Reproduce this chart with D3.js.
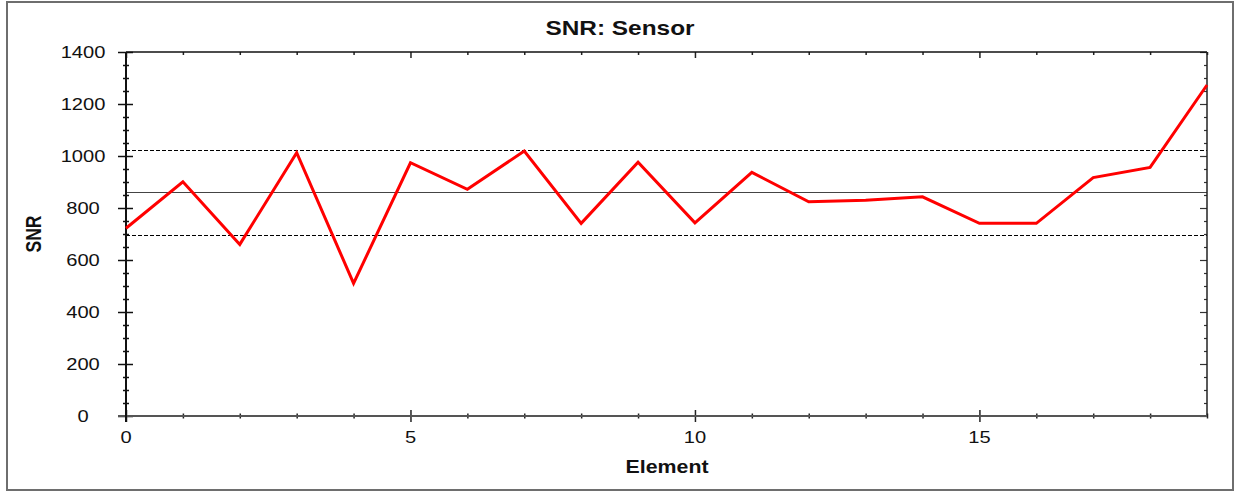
<!DOCTYPE html>
<html>
<head>
<meta charset="utf-8">
<script src="https://cdn.jsdelivr.net/npm/d3@7"></script>
<style>
  html, body { margin: 0; padding: 0; background: #fff; }
  svg { display: block; }
  text { font-family: "Liberation Sans", Arial, sans-serif; fill: #111; }
</style>
</head>
<body>
<svg id="chart" width="1236" height="494"></svg>
<script>
// ---- data ----
const elements = d3.range(0, 20);
const snrValues = [722, 901, 660, 1013, 510, 974, 872, 1019, 741, 976, 743, 937, 824, 830, 843, 741, 741, 917, 956, 1273];
const meanValue = 860;
const limitValues = [1023, 696];
const yTickValues = [0, 200, 400, 600, 800, 1000, 1200, 1400];
const xTickValues = [0, 5, 10, 15];
const titleText = "SNR: Sensor";
const xLabel = "Element";
const yLabel = "SNR";

// ---- layout ----
const svg = d3.select("#chart");
const L = 126, R = 1207, T = 52, B = 416;
const SX = 1.22; // horizontal stretch of the reference text

const x = d3.scaleLinear().domain([0, 19]).range([L, R]);
const y = d3.scaleLinear().domain([0, 1400]).range([B, T]);
const crisp = v => Math.round(v) + 0.5;

// outer frame
svg.append("rect").attr("x", 7).attr("y", 2).attr("width", 1226).attr("height", 488)
  .attr("fill", "#fff").attr("stroke", "#6e6e6e").attr("stroke-width", 2);

function stretchedText(px, py, str, opts) {
  return svg.append("text")
    .attr("transform", `translate(${px},${py}) scale(${SX},1)` + (opts.rotate ? ` rotate(${opts.rotate})` : ""))
    .attr("text-anchor", opts.anchor || "middle")
    .attr("font-size", opts.size)
    .attr("font-weight", opts.weight || "normal")
    .text(str);
}

// reference lines
svg.append("line").attr("x1", L).attr("x2", R).attr("y1", crisp(y(meanValue))).attr("y2", crisp(y(meanValue)))
  .attr("stroke", "#444").attr("stroke-width", 1);
limitValues.forEach(v => {
  svg.append("line").attr("x1", L).attr("x2", R).attr("y1", crisp(y(v))).attr("y2", crisp(y(v)))
    .attr("stroke", "#000").attr("stroke-width", 1).attr("stroke-dasharray", "4,2");
});

// axes helper
function styleAxis(g, color, width) {
  g.select(".domain").remove();
  g.selectAll(".tick line").attr("stroke", color).attr("stroke-width", width);
  g.selectAll(".tick text").remove();
}
const yMinor = d3.range(0, 1401, 50).filter(v => v % 200 !== 0);
const xMinor = elements.filter(v => v % 5 !== 0);

// left axis: major ticks crossing, minor small crossing
svg.append("g").attr("transform", `translate(${L},0)`).call(d3.axisLeft(y).tickValues(yTickValues).tickSize(8)).call(styleAxis, "#111", 1.5);
svg.append("g").attr("transform", `translate(${L},0)`).call(d3.axisRight(y).tickValues(yTickValues).tickSize(7)).call(styleAxis, "#111", 1.5);
svg.append("g").attr("transform", `translate(${L},0)`).call(d3.axisLeft(y).tickValues(yMinor).tickSize(3)).call(styleAxis, "#111", 1.5);
svg.append("g").attr("transform", `translate(${L},0)`).call(d3.axisRight(y).tickValues(yMinor).tickSize(3)).call(styleAxis, "#111", 1.5);
// right axis: inward ticks
svg.append("g").attr("transform", `translate(${R},0)`).call(d3.axisLeft(y).tickValues(yTickValues).tickSize(7)).call(styleAxis, "#333", 1.2);
svg.append("g").attr("transform", `translate(${R},0)`).call(d3.axisLeft(y).tickValues(yMinor).tickSize(3)).call(styleAxis, "#333", 1.2);
// top axis: inward ticks
svg.append("g").attr("transform", `translate(0,${T})`).call(d3.axisBottom(x).tickValues(xTickValues).tickSize(6)).call(styleAxis, "#222", 1.5);
svg.append("g").attr("transform", `translate(0,${T})`).call(d3.axisBottom(x).tickValues(xMinor).tickSize(3)).call(styleAxis, "#222", 1.5);
// bottom axis: crossing ticks
svg.append("g").attr("transform", `translate(0,${B})`).call(d3.axisBottom(x).tickValues(xTickValues).tickSize(6)).call(styleAxis, "#222", 1.5);
svg.append("g").attr("transform", `translate(0,${B})`).call(d3.axisTop(x).tickValues(xTickValues).tickSize(6)).call(styleAxis, "#222", 1.5);
svg.append("g").attr("transform", `translate(0,${B})`).call(d3.axisBottom(x).tickValues(xMinor).tickSize(2.5)).call(styleAxis, "#222", 1.5);
svg.append("g").attr("transform", `translate(0,${B})`).call(d3.axisTop(x).tickValues(xMinor).tickSize(2.5)).call(styleAxis, "#222", 1.5);

// axis lines (frame of plot)
svg.append("line").attr("x1", L).attr("x2", R).attr("y1", T).attr("y2", T).attr("stroke", "#111").attr("stroke-width", 1.5);
svg.append("line").attr("x1", R).attr("x2", R).attr("y1", T).attr("y2", B).attr("stroke", "#222").attr("stroke-width", 1.5);
svg.append("line").attr("x1", L - 8).attr("x2", R).attr("y1", B).attr("y2", B).attr("stroke", "#555").attr("stroke-width", 2);
svg.append("line").attr("x1", L).attr("x2", L).attr("y1", T).attr("y2", B + 6).attr("stroke", "#111").attr("stroke-width", 2);

// data line
const line = d3.line().x((d, i) => x(elements[i])).y(d => y(d));
svg.append("path").datum(snrValues).attr("d", line)
  .attr("fill", "none").attr("stroke", "#ff0000").attr("stroke-width", 3).attr("stroke-linejoin", "miter");

// tick labels
yTickValues.forEach(v => stretchedText(83, y(v) + 6, String(v), { size: 16.5 }));
xTickValues.forEach(v => stretchedText(x(v), 443, String(v), { size: 16.5 }));

// titles
stretchedText(620, 35, titleText, { size: 20, weight: "bold" });
stretchedText(667, 473, xLabel, { size: 17.5, weight: "bold" });
stretchedText(41, 234, yLabel, { size: 17.5, weight: "bold", rotate: -90 });
</script>
</body>
</html>
